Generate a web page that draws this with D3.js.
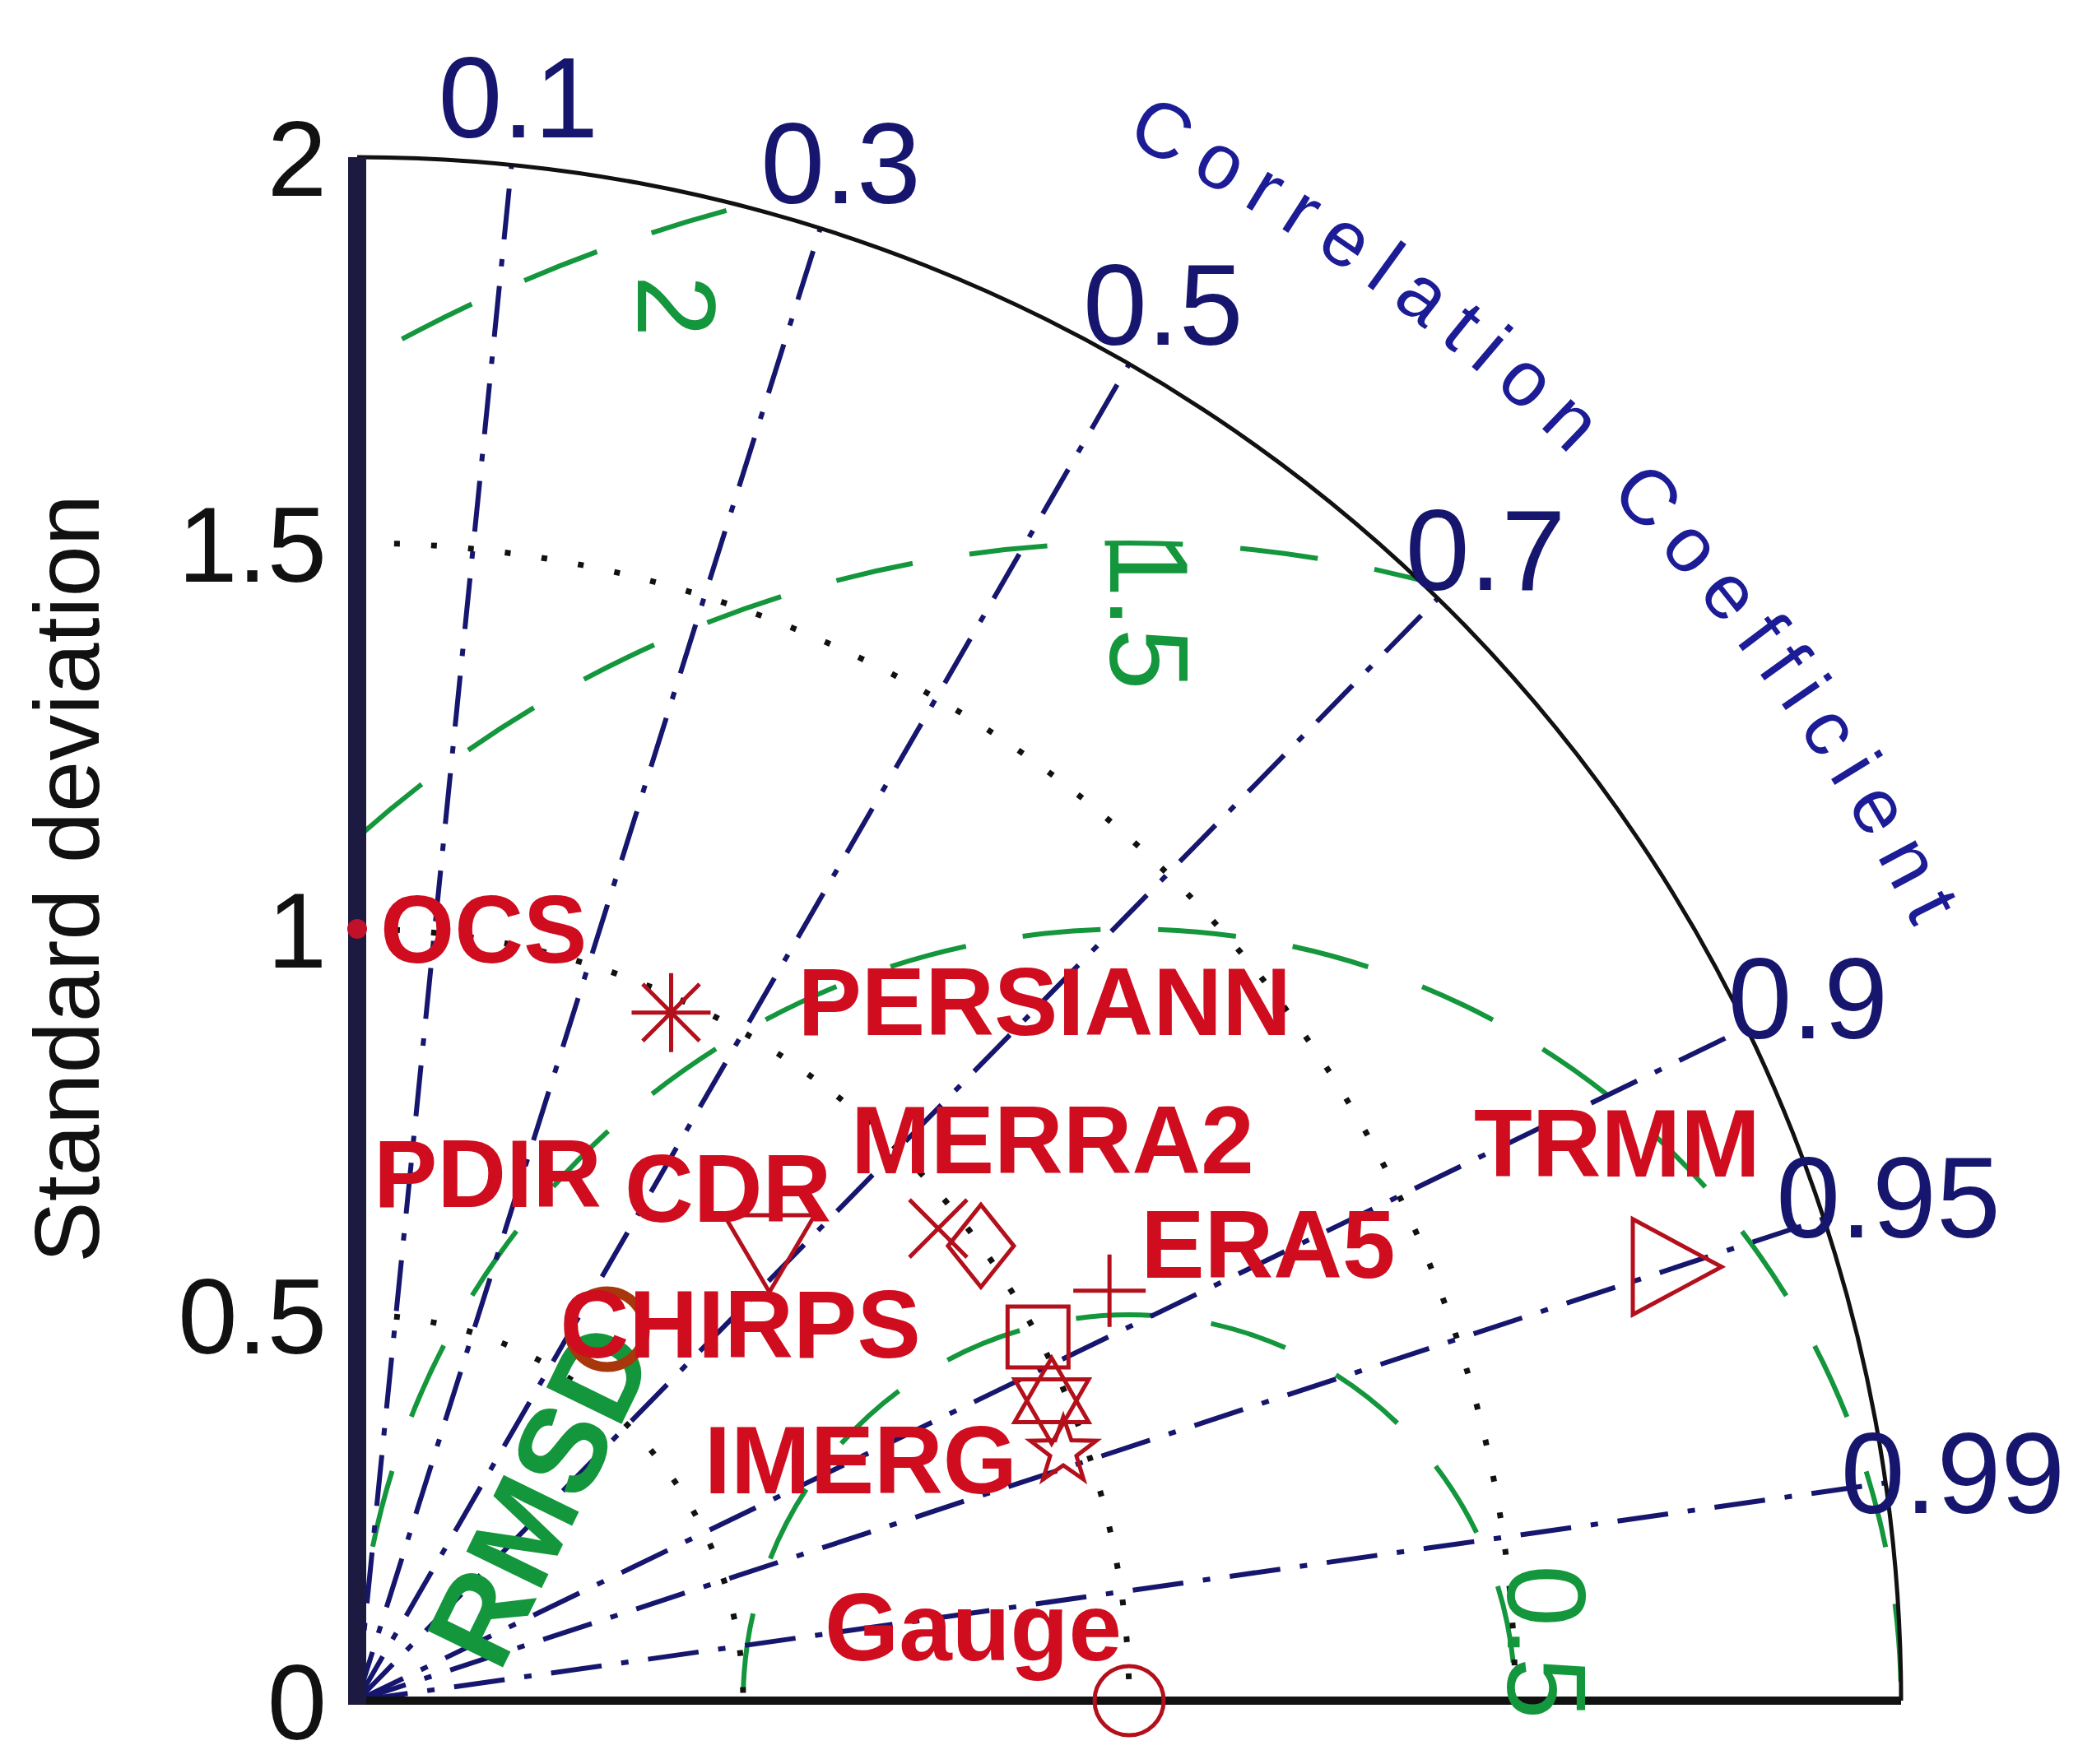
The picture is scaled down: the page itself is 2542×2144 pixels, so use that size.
<!DOCTYPE html>
<html>
<head>
<meta charset="utf-8">
<script src="https://cdn.jsdelivr.net/npm/d3@7"></script>
<style>
  html, body { margin: 0; padding: 0; background: #fff; }
  svg { display: block; font-family: "Liberation Sans", Arial, sans-serif; }
</style>
</head>
<body>
<div id="chart"></div>
<script>
// Taylor diagram: radius = standard deviation, angle = correlation coefficient

// axis ticks
const stdTicks = [0, 0.5, 1, 1.5, 2];
const corrTicks = [0.1, 0.3, 0.5, 0.7, 0.9, 0.95, 0.99];
const stdArcs = [0.5, 1, 1.5];
const rmsdRadii = [0.5, 1, 1.5, 2];
const rmsdLabelValues = [0.5, 1.5, 2];

// products
const seriesNames = ["Gauge", "TRMM", "ERA5", "IMERG", "", "", "PDIR", "MERRA2", "CDR", "CHIRPS", "PERSIANN", "OCS"];
const seriesStd   = [1.00, 1.80, 1.11, 0.98, 0.97, 1.00, 1.00, 0.97, 0.79, 0.58, 0.98, 1.00];
const seriesCorr  = [1.00, 0.95, 0.878, 0.918, 0.943, 0.882, 0.808, 0.776, 0.676, 0.558, 0.415, 0.00];

// marker styles, same order as above
const markerShape = ["circle", "triRight", "plus", "hexagram", "pentagram", "square", "diamond", "cross", "triDown", "ring", "asterisk", "dot"];
const markerSize  = [42, 58, 44, 52, 42, 37, 50, 35, 55, 46, 48, 12];
const labelOffset = [[-370, -49], [-247, -110], [38, -16], [-422, 113], null, null,
                     [-738, -47], [-106, -67], [-176, -36], [-57, 34], [154, 27], [28, 41]];

const W = 2542, H = 2144;
const ox = 434, oy = 2067, R = 1876;
const navy = "#16166e", green = "#14963c", red = "#cf0d1f", mred = "#b3101c";

const r = d3.scaleLinear().domain([0, 2]).range([0, R]);
const yScale = d3.scaleLinear().domain([0, 2]).range([oy, oy - R]);

function polar(std, corr) {
  const a = Math.acos(corr);
  return [ox + r(std) * Math.cos(a), oy - r(std) * Math.sin(a)];
}
function quarterArc(std) {
  return `M${ox},${oy - r(std)} A${r(std)},${r(std)} 0 0 1 ${ox + r(std)},${oy}`;
}

function shapePath(kind, s) {
  switch (kind) {
    case "circle": case "ring": case "dot":
      return d3.symbol(d3.symbolCircle, Math.PI * s * s)();
    case "square": return `M${-s},${-s}H${s}V${s}H${-s}Z`;
    case "diamond": return `M0,${-s}L${s * 0.8},0L0,${s}L${-s * 0.8},0Z`;
    case "triRight": return `M${s * 0.93},0L${-s * 0.93},${-s}L${-s * 0.93},${s}Z`;
    case "triDown": return `M${-s},${-s * 0.8}L${s},${-s * 0.8}L0,${s * 0.9}Z`;
    case "plus": return `M${-s},0H${s}M0,${-s}V${s}`;
    case "cross": return `M${-s},${-s}L${s},${s}M${-s},${s}L${s},${-s}`;
    case "asterisk": {
      const k = s * 0.72;
      return `M${-s},0H${s}M0,${-s}V${s}M${-k},${-k}L${k},${k}M${-k},${k}L${k},${-k}`;
    }
    case "hexagram": {
      const tri = off => d3.range(3).map(i => {
        const a = off + i * 2 * Math.PI / 3;
        return [s * Math.cos(a), s * Math.sin(a)];
      });
      return "M" + tri(-Math.PI / 2).join("L") + "Z M" + tri(Math.PI / 2).join("L") + "Z";
    }
    case "pentagram": {
      const pts = d3.range(10).map(i => {
        const a = -Math.PI / 2 + i * Math.PI / 5, rr = i % 2 ? s * 0.4 : s;
        return [rr * Math.cos(a), rr * Math.sin(a)];
      });
      return "M" + pts.join("L") + "Z";
    }
  }
}

const svg = d3.select("#chart").append("svg")
  .attr("width", W).attr("height", H)
  .attr("viewBox", [0, 0, W, H]);

svg.append("rect").attr("width", W).attr("height", H).attr("fill", "#fff");

svg.append("clipPath").attr("id", "quad")
  .append("path")
  .attr("d", `M${ox},${oy} L${ox},${oy - R} A${R},${R} 0 0 1 ${ox + R},${oy} Z`);

// RMSD circles around the reference point
const ref = polar(1, 1);
svg.append("g").attr("clip-path", "url(#quad)")
  .selectAll("circle")
  .data(rmsdRadii)
  .join("circle")
  .attr("cx", ref[0]).attr("cy", ref[1])
  .attr("r", d => r(d))
  .attr("fill", "none")
  .attr("stroke", green)
  .attr("stroke-width", 6)
  .attr("stroke-dasharray", "95,70");

// standard deviation arcs (dotted)
svg.append("g")
  .selectAll("path")
  .data(stdArcs)
  .join("path")
  .attr("d", quarterArc)
  .attr("fill", "none")
  .attr("stroke", "#111")
  .attr("stroke-width", 7)
  .attr("stroke-dasharray", "7,38");

// correlation rays (dash-dot)
svg.append("g")
  .selectAll("line")
  .data(corrTicks)
  .join("line")
  .attr("x1", ox).attr("y1", oy)
  .attr("x2", d => polar(2, d)[0])
  .attr("y2", d => polar(2, d)[1])
  .attr("stroke", navy)
  .attr("stroke-width", 6)
  .attr("stroke-dasharray", "62,24,9,24");

// frame
svg.append("path").attr("d", quarterArc(2))
  .attr("fill", "none").attr("stroke", "#111").attr("stroke-width", 5);
svg.append("line")
  .attr("x1", ox).attr("y1", oy).attr("x2", ox + R).attr("y2", oy)
  .attr("stroke", "#111").attr("stroke-width", 10);
svg.append("line")
  .attr("x1", ox).attr("y1", oy + 5).attr("x2", ox).attr("y2", oy - R)
  .attr("stroke", "#1c1a40").attr("stroke-width", 22);

// std axis labels
const yAxis = svg.append("g")
  .attr("transform", `translate(${ox - 11},0)`)
  .call(d3.axisLeft(yScale).tickValues(stdTicks).tickFormat(d => String(d)).tickSize(0).tickPadding(26));
yAxis.select(".domain").remove();
yAxis.selectAll("text")
  .attr("font-size", 130)
  .attr("font-family", "\"Liberation Sans\", Arial, sans-serif")
  .attr("fill", "#111")
  .attr("dy", "0.36em");

svg.append("text")
  .attr("transform", "translate(81,1068) rotate(-90)")
  .attr("text-anchor", "middle")
  .attr("dominant-baseline", "central")
  .attr("font-size", 112)
  .attr("fill", "#111")
  .text("Standard deviation");

// correlation labels
svg.append("g")
  .selectAll("text")
  .data(corrTicks)
  .join("text")
  .attr("x", d => polar(2.088, d)[0])
  .attr("y", d => polar(2.088, d)[1])
  .attr("text-anchor", "middle")
  .attr("dominant-baseline", "central")
  .attr("font-size", 140)
  .attr("fill", navy)
  .text(d => String(d));

const titleR = r(2.252);
const a0 = 63.8 * Math.PI / 180, a1 = 14 * Math.PI / 180;
svg.append("path").attr("id", "corrTitle").attr("fill", "none")
  .attr("d", `M${ox + titleR * Math.cos(a0)},${oy - titleR * Math.sin(a0)} A${titleR},${titleR} 0 0 1 ${ox + titleR * Math.cos(a1)},${oy - titleR * Math.sin(a1)}`);
svg.append("text")
  .attr("font-size", 95)
  .attr("letter-spacing", 20)
  .attr("fill", "#1c1c96")
  .append("textPath")
  .attr("href", "#corrTitle")
  .text("Correlation Coefficient");

// RMSD labels
const rmsdAngle = [8, 89, 108], rmsdFactor = [1.09, 0.94, 0.95];
svg.append("g")
  .selectAll("text")
  .data(rmsdLabelValues)
  .join("text")
  .attr("transform", (d, i) => {
    const a = rmsdAngle[i] * Math.PI / 180, rr = r(d * rmsdFactor[i]);
    return `translate(${ref[0] + rr * Math.cos(a)},${ref[1] - rr * Math.sin(a)}) rotate(90)`;
  })
  .attr("text-anchor", "middle")
  .attr("dominant-baseline", "central")
  .attr("font-size", 135)
  .attr("fill", green)
  .text(d => String(d));

svg.append("text")
  .attr("transform", `translate(${ox + 222},${oy - 250}) rotate(-64)`)
  .attr("text-anchor", "middle")
  .attr("dominant-baseline", "central")
  .attr("font-size", 148)
  .attr("font-weight", "bold")
  .attr("fill", green)
  .text("RMSD");

// markers
const idx = d3.range(seriesNames.length);
svg.append("g")
  .selectAll("path")
  .data(idx)
  .join("path")
  .attr("transform", i => `translate(${polar(seriesStd[i], seriesCorr[i])})`)
  .attr("d", i => shapePath(markerShape[i], markerSize[i]))
  .attr("fill", i => markerShape[i] === "dot" ? "#c0102a" : "none")
  .attr("stroke", i => markerShape[i] === "ring" ? "#a8380c" : markerShape[i] === "dot" ? "none" : mred)
  .attr("stroke-width", i => markerShape[i] === "ring" ? 12 : 5);

// product labels
svg.append("g")
  .selectAll("text")
  .data(idx.filter(i => labelOffset[i]))
  .join("text")
  .attr("x", i => polar(seriesStd[i], seriesCorr[i])[0] + labelOffset[i][0])
  .attr("y", i => polar(seriesStd[i], seriesCorr[i])[1] + labelOffset[i][1])
  .attr("font-size", 116)
  .attr("font-weight", "bold")
  .attr("fill", red)
  .text(i => seriesNames[i]);
</script>
</body>
</html>
